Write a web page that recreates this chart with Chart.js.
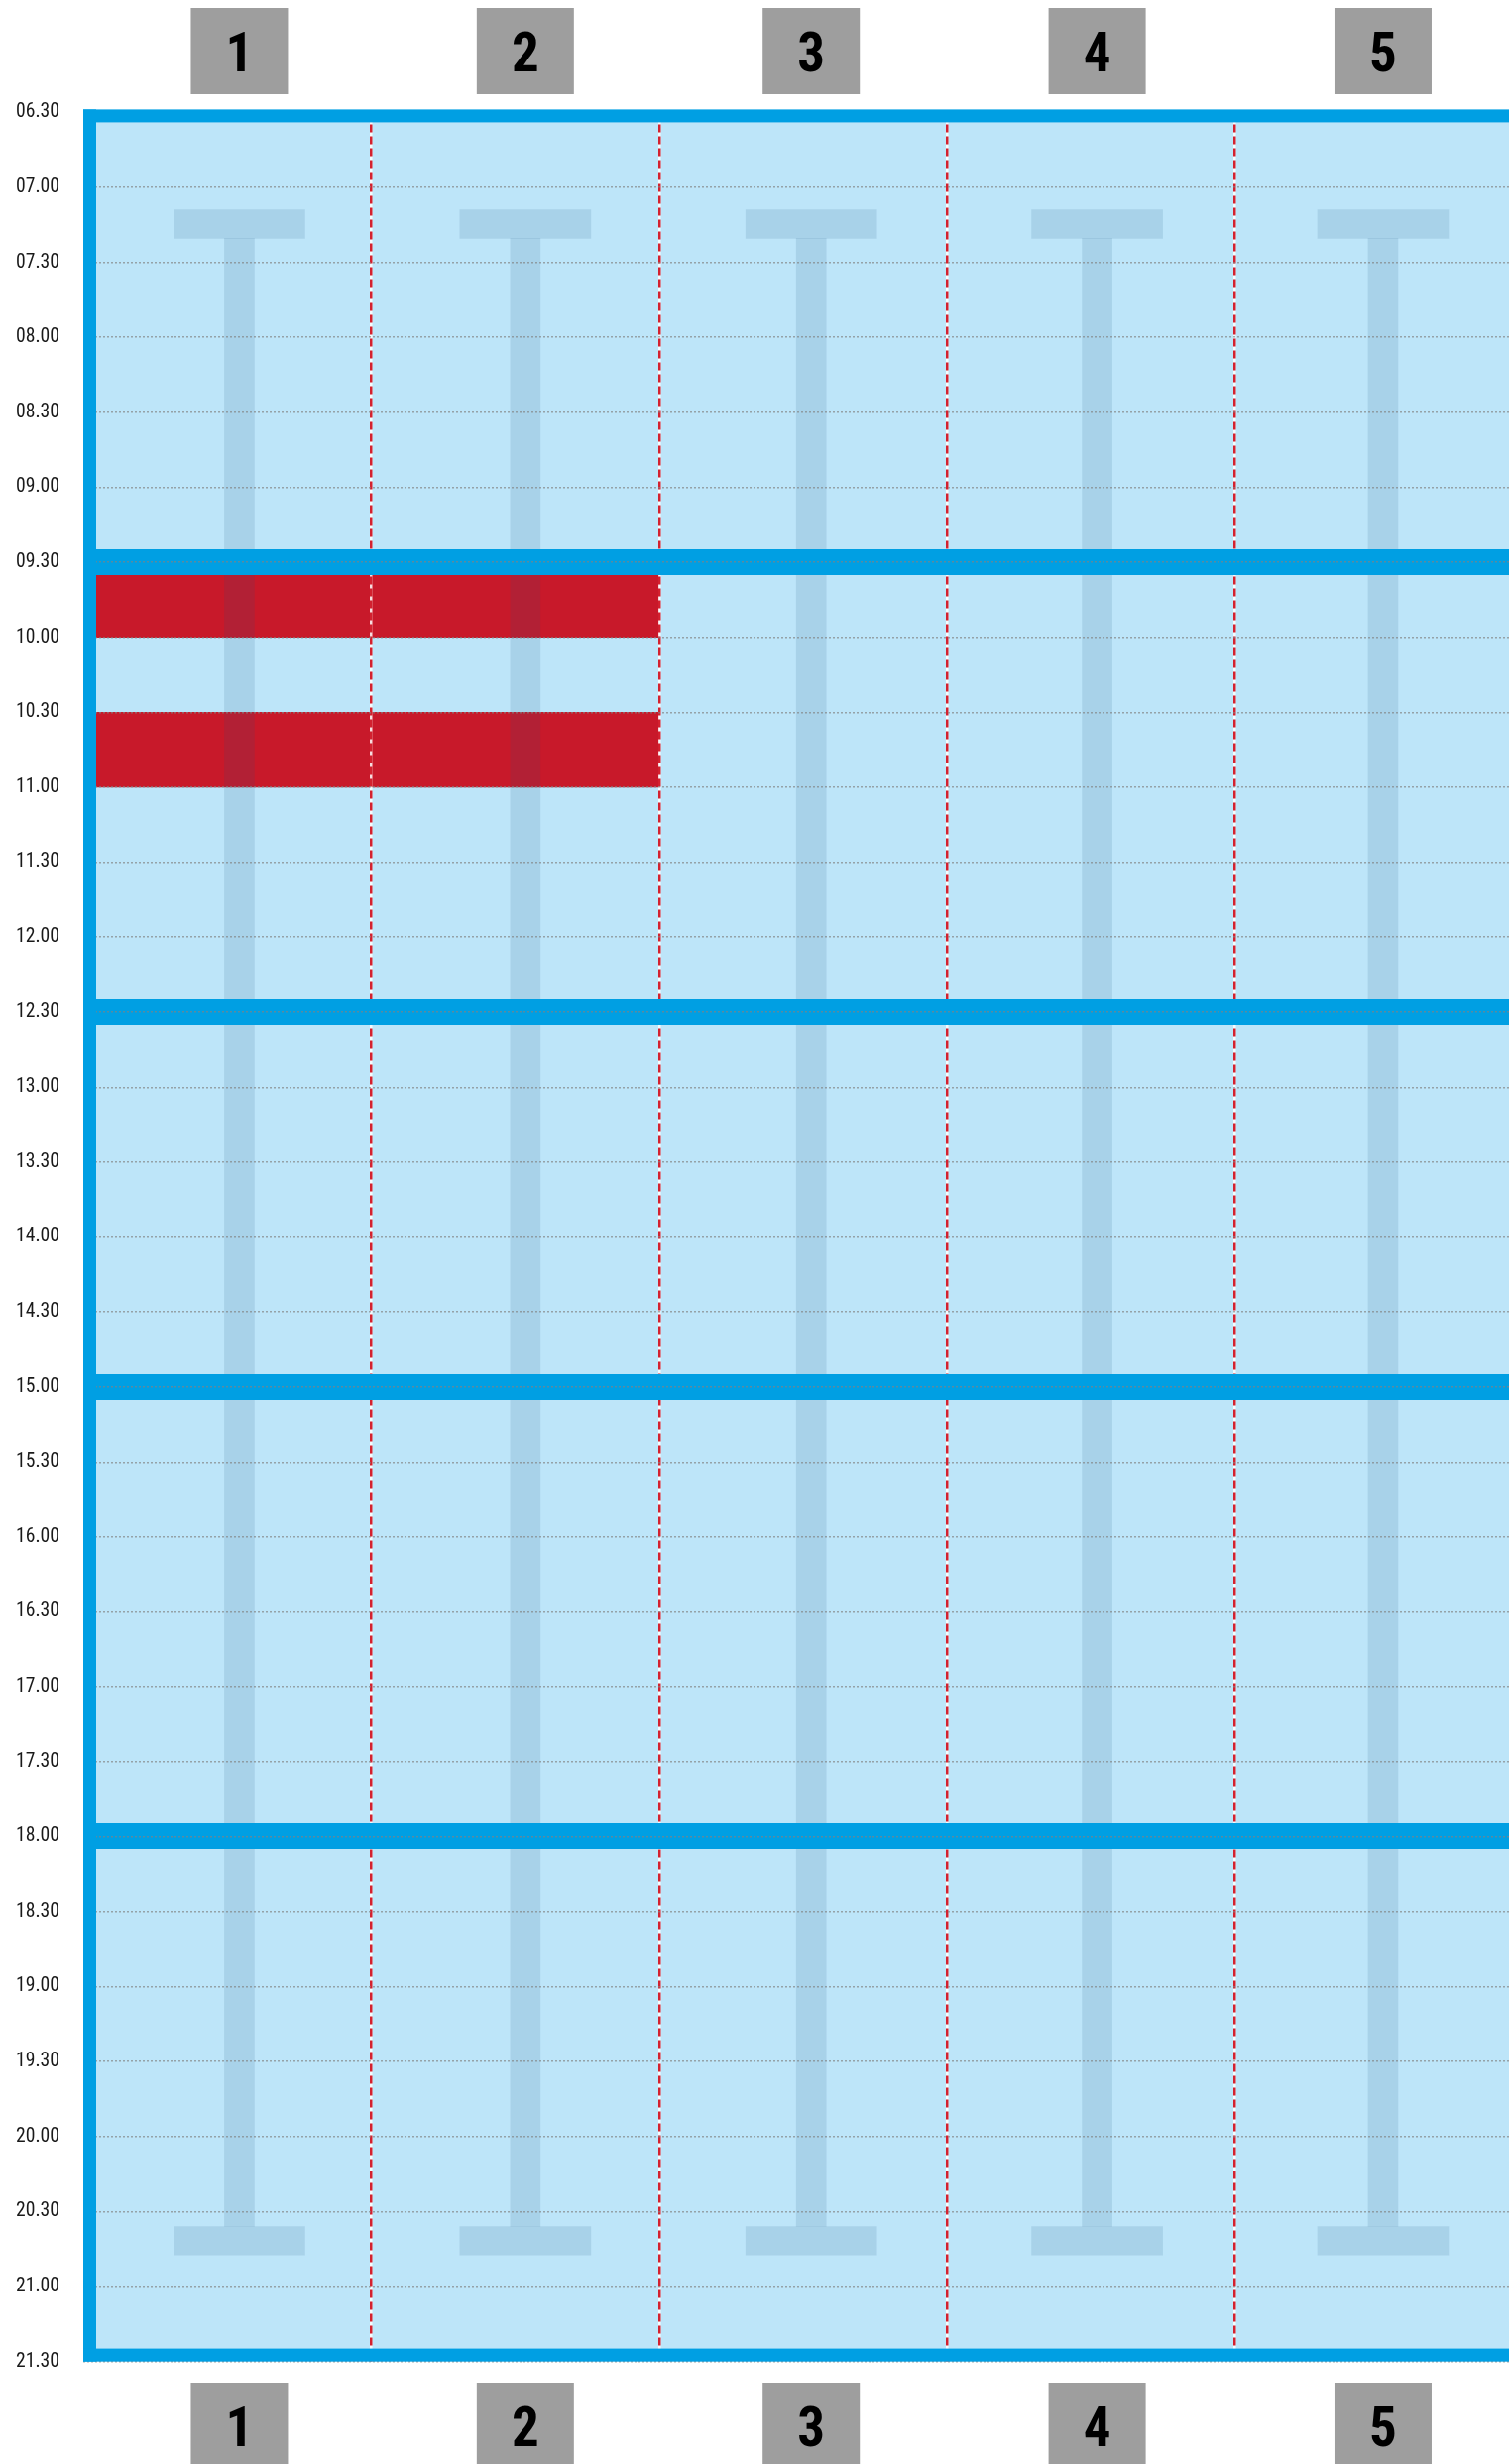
<!DOCTYPE html>
<html>
<head>
<meta charset="utf-8">
<script src="https://cdn.jsdelivr.net/npm/chart.js@4.4.1/dist/chart.umd.min.js"></script>
<style>
  html, body { margin: 0; padding: 0; background: #ffffff; overflow: hidden; }
  canvas { display: block; }
</style>
</head>
<body>
<canvas id="c" width="1522" height="2485"></canvas>
<script>
// ---------------- data ----------------
const DAYS = ['1', '2', '3', '4', '5'];
const DAY_DIVIDERS = [1.5, 2.5, 3.5, 4.5];
const TIME_VALUES = [6.5, 7, 7.5, 8, 8.5, 9, 9.5, 10, 10.5, 11, 11.5, 12, 12.5, 13, 13.5, 14,
                     14.5, 15, 15.5, 16, 16.5, 17, 17.5, 18, 18.5, 19, 19.5, 20, 20.5, 21, 21.5];
const TIME_LABELS = ['06.30', '07.00', '07.30', '08.00', '08.30', '09.00', '09.30', '10.00', '10.30',
                     '11.00', '11.30', '12.00', '12.30', '13.00', '13.30', '14.00', '14.30', '15.00',
                     '15.30', '16.00', '16.30', '17.00', '17.30', '18.00', '18.30', '19.00', '19.30',
                     '20.00', '20.30', '21.00', '21.30'];
const SESSION_BREAKS = [9.5, 12.5, 15, 18];
const EVENT_DAYS  = [1, 2, 1, 2];
const EVENT_START = [9.5, 9.5, 10.5, 10.5];
const EVENT_END   = [10, 10, 11, 11];
const PILLAR_CAP_TOP    = [7.15, 7.34];
const PILLAR_STEM       = [7.34, 20.6];
const PILLAR_CAP_BOTTOM = [20.6, 20.79];

// ---------------- fonts ----------------
function pickFont(cands) {
  const c = document.createElement('canvas').getContext('2d');
  const test = '0123456789.mwMW';
  for (const f of cands) {
    let differs = false;
    for (const g of ['monospace', 'serif']) {
      c.font = '40px ' + g; const a = c.measureText(test).width;
      c.font = "40px '" + f + "', " + g; const b = c.measureText(test).width;
      if (Math.abs(a - b) > 0.01) differs = true;
    }
    if (differs) return f;
  }
  return null;
}
const NARROW = pickFont(['Liberation Sans Narrow', 'Roboto Condensed', 'Arial Narrow', 'Open Sans Condensed', 'Noto Sans Display Condensed']);
const FAMILY = NARROW ? "'" + NARROW + "', 'Liberation Sans', sans-serif" : "'Liberation Sans', Arial, sans-serif";

const mctx = document.createElement('canvas').getContext('2d');
mctx.font = '21px ' + FAMILY;
const labelW21 = mctx.measureText('06.30').width;
const TICK_SIZE = Math.max(18.5, Math.min(21, 21 * 44 / labelW21));

// ---------------- styles ----------------
const FRAME_BLUE = '#009fe3';
const FILL_BLUE = '#bde5f9';
const PILLAR = 'rgba(30,82,130,0.13)';
const EVENT_RED = '#c8192a';
const DASH_RED = '#d3212f';
const BOX_GREY = '#9e9e9e';

const BOX_W = 98, BOX_FONT = NARROW ? 55 : 50;
const BOX_H = 87;
const TEXT_SHIFT = 6.5;
const PAD_TOP = (BOX_H - BOX_FONT) / 2 + TEXT_SHIFT;
const PAD_BOTTOM = (BOX_H - BOX_FONT) / 2 - TEXT_SHIFT;
mctx.font = 'bold ' + BOX_FONT + 'px ' + FAMILY;
const textW = Math.max(...DAYS.map(d => mctx.measureText(d).width));
const BOX_PAD_X = (BOX_W - textW) / 2;

const dayTicks = (s) => { s.ticks = DAYS.map((d, i) => ({ value: i + 1 })); };

const areaFill = {
  id: 'areaFill',
  beforeDatasetsDraw(chart) {
    const { ctx, chartArea: a } = chart;
    ctx.save();
    ctx.fillStyle = FILL_BLUE;
    ctx.fillRect(a.left, a.top, a.right - a.left, a.bottom - a.top);
    ctx.restore();
  }
};

const areaFrame = {
  id: 'areaFrame',
  afterDraw(chart) {
    const { ctx, chartArea: a } = chart;
    const t = 13;
    ctx.save();
    ctx.fillStyle = FRAME_BLUE;
    ctx.fillRect(a.left, a.top - 3, a.right - a.left, t);
    ctx.fillRect(a.left, a.top - 3, t, a.bottom - a.top + 3);
    ctx.fillRect(a.left, a.bottom - t, a.right - a.left, t);
    ctx.restore();
  }
};

const TOP_AXIS_H = 113.4, BOTTOM_AXIS_H = 103.4;
const TOP_BOX_BOTTOM = 95, BOTTOM_BOX_TOP = 2403 - (2485 - BOTTOM_AXIS_H);

const boxTicks = (padding) => ({
  autoSkip: false, maxRotation: 0, minRotation: 0,
  padding: padding,
  color: '#000000',
  font: { family: FAMILY, size: BOX_FONT, weight: 'bold', lineHeight: 1 },
  callback: (v, i) => DAYS[i],
  showLabelBackdrop: true,
  backdropColor: BOX_GREY,
  backdropPadding: { top: PAD_TOP, bottom: PAD_BOTTOM, left: BOX_PAD_X, right: BOX_PAD_X }
});

const LABEL_MIN = 0.454, LABEL_MAX = 5.4405;
const COL_MIN = 0.5, COL_MAX = 5.452;

new Chart(document.getElementById('c'), {
  type: 'bar',
  data: {
    datasets: [
      {
        label: 'events',
        data: EVENT_DAYS.map((d, i) => ({ x: d, y: [EVENT_START[i], EVENT_END[i]] })),
        backgroundColor: EVENT_RED, borderWidth: 0,
        barPercentage: 1, categoryPercentage: 1, grouped: false,
        xAxisID: 'x', yAxisID: 'y', order: 2
      },
      {
        label: 'pillarTop',
        data: DAYS.map((d, i) => ({ x: i + 1, y: PILLAR_CAP_TOP })),
        backgroundColor: PILLAR, borderWidth: 0, barThickness: 132, grouped: false,
        xAxisID: 'xTop', yAxisID: 'y', order: 1
      },
      {
        label: 'pillarStem',
        data: DAYS.map((d, i) => ({ x: i + 1, y: PILLAR_STEM })),
        backgroundColor: PILLAR, borderWidth: 0, barThickness: 30, grouped: false,
        xAxisID: 'xTop', yAxisID: 'y', order: 1
      },
      {
        label: 'pillarBottom',
        data: DAYS.map((d, i) => ({ x: i + 1, y: PILLAR_CAP_BOTTOM })),
        backgroundColor: PILLAR, borderWidth: 0, barThickness: 132, grouped: false,
        xAxisID: 'xTop', yAxisID: 'y', order: 1
      }
    ]
  },
  options: {
    responsive: false,
    animation: false,
    devicePixelRatio: 1,
    layout: { padding: 0 },
    plugins: { legend: { display: false }, tooltip: { enabled: false } },
    scales: {
      xTop: {
        type: 'linear', position: 'top', min: LABEL_MIN, max: LABEL_MAX, offset: false,
        grid: { display: false, drawTicks: false, offset: false },
        border: { display: false },
        afterBuildTicks: dayTicks,
        afterFit: (s) => { s.height = TOP_AXIS_H; },
        ticks: boxTicks(TOP_AXIS_H - (TOP_BOX_BOTTOM - PAD_BOTTOM))
      },
      xBottom: {
        type: 'linear', position: 'bottom', min: LABEL_MIN, max: LABEL_MAX, offset: false,
        grid: { display: false, drawTicks: false, offset: false },
        border: { display: false },
        afterBuildTicks: dayTicks,
        afterFit: (s) => { s.height = BOTTOM_AXIS_H; },
        ticks: boxTicks(BOTTOM_BOX_TOP + PAD_TOP)
      },
      xWhite: {
        type: 'linear', position: 'bottom', min: COL_MIN, max: COL_MAX, offset: false,
        grid: { color: 'rgba(255,255,255,0.85)', lineWidth: 2.5, drawTicks: false, offset: false, z: 1 },
        border: { display: false },
        ticks: { display: false },
        afterBuildTicks: (s) => { s.ticks = DAY_DIVIDERS.map(v => ({ value: v })); },
        afterFit: (s) => { s.height = 0; }
      },
      x: {
        type: 'linear', position: 'bottom', min: COL_MIN, max: COL_MAX, offset: false,
        grid: { color: DASH_RED, lineWidth: 2.5, drawTicks: false, offset: false, z: 2 },
        border: { display: false, dash: [8, 4] },
        ticks: { display: false },
        afterBuildTicks: (s) => { s.ticks = DAY_DIVIDERS.map(v => ({ value: v })); },
        afterFit: (s) => { s.height = 0; }
      },
      yBands: {
        type: 'linear', position: 'left', reverse: true, min: 6.5, max: 21.5,
        grid: { color: FRAME_BLUE, lineWidth: 26, drawTicks: false, z: 3 },
        border: { display: false },
        ticks: { display: false },
        afterBuildTicks: (s) => { s.ticks = SESSION_BREAKS.map(v => ({ value: v })); },
        afterFit: (s) => { s.width = 0; },
        weight: 0
      },
      y: {
        type: 'linear', position: 'left', reverse: true, min: 6.5, max: 21.5,
        grid: { color: 'rgba(130,130,130,0.68)', lineWidth: 1.5, drawTicks: false, z: 4 },
        border: { display: false, dash: [2, 2] },
        afterBuildTicks: (s) => { s.ticks = TIME_VALUES.map(v => ({ value: v })); },
        afterFit: (s) => { s.width = 84; },
        weight: 1,
        ticks: {
          autoSkip: false, padding: 24, color: '#1a1a1a',
          font: { family: FAMILY, size: TICK_SIZE, weight: 'normal' },
          callback: (v, i) => TIME_LABELS[i]
        }
      }
    }
  },
  plugins: [areaFill, areaFrame]
});
</script>
</body>
</html>
